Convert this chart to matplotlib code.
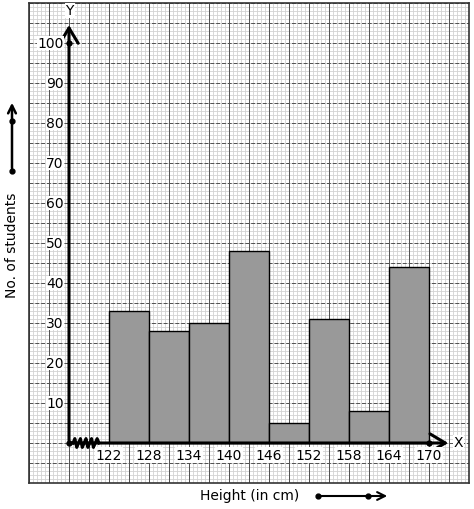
import numpy as np
import matplotlib
matplotlib.use("Agg")
from matplotlib import pyplot as plt

# class intervals (height in cm) and number of students
edges = [122, 128, 134, 140, 146, 152, 158, 164, 170]
students = [33, 28, 30, 48, 5, 31, 8, 44]
y_labels = [10, 20, 30, 40, 50, 60, 70, 80, 90, 100]

x0, x1 = 110, 176
y0, y1 = -10, 110
origin_x = 116

fig = plt.figure(figsize=(4.74, 5.10), dpi=100)
ax = fig.add_axes([29 / 474, 26 / 510, 440 / 474, 480 / 510])
ax.set_xlim(x0, x1)
ax.set_ylim(y0, y1)
ax.set_xticks([])
ax.set_yticks([])
for s in ax.spines.values():
    s.set_color('#333333')
    s.set_linewidth(1.2)

# graph paper
ax.vlines(np.arange(x0, x1, 0.6), y0, y1, color='#d2d2d2', lw=0.6, zorder=0)
ax.hlines(np.arange(y0, y1, 1), x0, x1, color='#d2d2d2', lw=0.6, zorder=0)
ax.vlines(np.arange(x0, x1 + 0.1, 3), y0, y1, color='#505050', lw=0.7, zorder=0.5)
ax.hlines(np.arange(y0, y1 + 0.1, 5), x0, x1, color='#505050', lw=0.7,
          linestyles=(0, (4, 2)), zorder=0.5)

# histogram
lefts = edges[:-1]
ax.bar(lefts, students, width=6, align='edge', color='#999999',
       edgecolor='black', lw=1, zorder=2)

# axes with arrows
head = '->, head_length=0.5, head_width=0.3'
ax.annotate('', xy=(173.3, 0), xytext=(origin_x, 0),
            arrowprops=dict(arrowstyle=head, lw=2.2, color='black',
                            mutation_scale=22), zorder=3)
ax.annotate('', xy=(origin_x, 105.2), xytext=(origin_x, 0),
            arrowprops=dict(arrowstyle=head, lw=2.2, color='black',
                            mutation_scale=22), zorder=3)
ax.plot([origin_x, origin_x, edges[-1]], [0, 100, 0], 'o', color='black', ms=3.5, zorder=6)
ax.text(174.4, 0.2, 'X', ha='center', va='center', fontsize=10,
        bbox=dict(facecolor='white', edgecolor='none', pad=0.5), zorder=4)
ax.text(origin_x + 0.1, 108.2, 'Y', ha='center', va='center', fontsize=10,
        bbox=dict(facecolor='white', edgecolor='none', pad=0.5), zorder=4)

# kink on x-axis
zx = np.linspace(116.6, 120.5, 15)
zy = np.array([0, 1.1, -1.1] * 5)[:15]
zy[-1] = 0
ax.plot(zx, zy, color='black', lw=2.2, zorder=4)

# tick labels
for e in edges:
    ax.text(e, -3, str(e), ha='center', va='center', fontsize=10,
            bbox=dict(facecolor='white', edgecolor='none', pad=0.5), zorder=4)
for v in y_labels:
    ax.text(origin_x - 0.8, v, str(v), ha='right', va='center', fontsize=10,
            bbox=dict(facecolor='white', edgecolor='none', pad=0.3), zorder=4)

# outer labels with arrows
fig.text(250 / 474, 1 - 496 / 510, 'Height (in cm)', ha='center', va='center', fontsize=10)
fig.text(12 / 474, 1 - 245 / 510, 'No. of students', ha='center', va='center',
         rotation=90, fontsize=10)
fig.add_artist(matplotlib.patches.FancyArrowPatch(
    (318 / 474, 1 - 497 / 510), (390 / 474, 1 - 497 / 510), transform=fig.transFigure,
    arrowstyle='->', lw=1.5, mutation_scale=14, color='black'))
fig.add_artist(matplotlib.patches.FancyArrowPatch(
    (12 / 474, 1 - 172 / 510), (12 / 474, 1 - 101 / 510), transform=fig.transFigure,
    arrowstyle='->', lw=1.8, mutation_scale=14, color='black'))
for px, py in [(318, 497), (368, 497), (12, 172), (12, 122)]:
    fig.add_artist(matplotlib.lines.Line2D([px / 474], [1 - py / 510], marker='o',
                                           ms=3.5, color='black', transform=fig.transFigure))

fig.savefig('out.png', dpi=100)
